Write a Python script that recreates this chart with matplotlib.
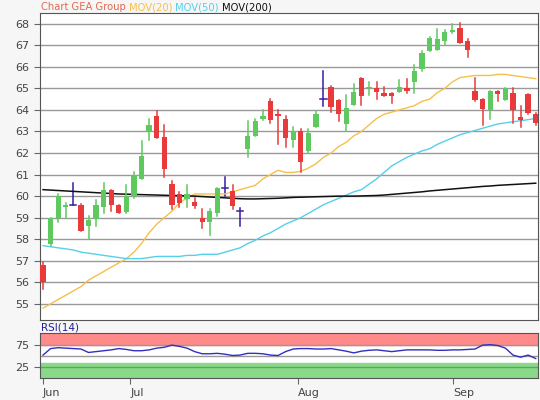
import matplotlib
matplotlib.use("Agg")
import matplotlib.pyplot as plt
import numpy as np

opens = [56.8,57.8,59.0,59.5,59.6,59.6,58.6,58.95,59.5,60.3,59.6,59.25,60.0,60.8,63.0,63.7,62.75,60.55,60.1,59.85,59.75,59.0,58.8,59.2,60.4,60.25,59.3,62.2,62.8,63.6,64.4,63.8,
         63.6,62.6,63.0,62.1,63.2,64.5,65.07,64.45,63.35,64.25,65.5,65.0,65.0,64.8,64.8,64.85,65.0,65.3,65.9,66.75,66.8,67.2,67.6,67.8,67.2,64.9,64.5,64.0,64.9,64.45,64.8,63.65,64.75,63.8]
closes = [56.0,59.0,60.0,59.6,59.6,58.4,58.9,59.6,60.3,59.6,59.2,60.0,61.0,61.85,63.3,62.7,61.25,59.6,59.7,60.1,59.55,58.8,59.3,60.4,60.4,59.55,59.3,62.8,63.5,63.7,63.55,63.7,
          62.7,63.0,61.6,62.95,63.8,64.5,64.14,63.8,64.1,64.85,64.65,65.05,64.85,64.65,64.65,65.05,64.9,65.8,66.65,67.35,67.3,67.6,67.7,67.1,66.8,64.45,64.05,64.9,64.75,65.0,64.0,63.55,63.85,63.4]
highs = [56.95,59.0,60.1,59.7,60.6,59.65,59.1,59.8,60.6,60.3,59.6,60.5,61.1,62.55,63.6,63.95,63.3,60.7,60.2,60.5,59.9,59.4,59.4,60.4,60.9,60.5,59.45,63.5,63.6,64.0,64.5,64.0,
         63.7,63.2,63.1,63.1,63.95,65.8,65.1,64.45,64.7,65.2,65.5,65.3,65.3,65.05,64.8,65.4,65.45,66.1,66.75,67.4,67.75,67.7,68.0,68.05,67.3,65.5,64.5,64.9,64.9,65.0,65.0,64.2,64.75,63.85]
lows = [55.7,57.7,58.8,59.0,59.6,58.4,58.0,58.6,59.2,59.3,59.2,59.2,59.9,60.8,62.6,62.7,60.9,59.4,59.5,59.5,59.45,58.5,58.2,59.1,60.0,59.4,58.6,61.8,62.8,63.55,63.4,62.4,
        62.3,62.3,61.1,62.0,63.2,64.2,63.9,63.5,63.0,64.25,64.25,64.7,64.5,64.65,64.3,64.85,64.8,64.8,65.8,66.75,66.8,67.0,67.55,67.1,66.45,64.4,63.3,63.6,64.4,64.45,63.4,63.2,63.8,63.3]

mov20 = [54.8,55.0,55.2,55.4,55.6,55.8,56.1,56.3,56.5,56.7,56.9,57.1,57.4,57.8,58.3,58.7,59.0,59.3,59.7,59.9,60.1,60.1,60.1,60.1,60.1,60.2,60.3,60.4,60.5,60.8,61.0,61.2,
         61.1,61.1,61.15,61.3,61.5,61.8,62.0,62.3,62.5,62.8,63.0,63.3,63.6,63.8,63.9,64.0,64.1,64.2,64.4,64.5,64.8,65.0,65.3,65.5,65.55,65.6,65.6,65.6,65.65,65.65,65.6,65.55,65.5,65.45]
mov50 = [57.7,57.65,57.6,57.55,57.5,57.4,57.35,57.3,57.25,57.2,57.15,57.1,57.1,57.1,57.15,57.2,57.2,57.2,57.2,57.25,57.25,57.3,57.3,57.3,57.4,57.5,57.6,57.8,57.95,58.15,58.3,58.5,
         58.7,58.85,59.0,59.2,59.4,59.6,59.75,59.9,60.05,60.2,60.3,60.55,60.8,61.1,61.4,61.6,61.8,61.95,62.1,62.2,62.4,62.55,62.7,62.85,62.95,63.05,63.15,63.25,63.35,63.4,63.45,63.5,63.55,63.6]
mov200 = [60.3,60.28,60.26,60.24,60.22,60.2,60.18,60.16,60.14,60.12,60.1,60.09,60.08,60.07,60.06,60.05,60.04,60.03,60.02,60.01,60.0,59.98,59.96,59.94,59.92,59.9,59.88,59.87,59.87,59.88,59.89,59.9,
          59.92,59.94,59.95,59.96,59.97,59.98,59.99,60.0,60.0,60.0,60.01,60.02,60.03,60.05,60.08,60.11,60.14,60.17,60.2,60.24,60.27,60.3,60.33,60.36,60.39,60.42,60.45,60.47,60.5,60.52,60.54,60.56,60.58,60.6]
rsi = [52,67,69,68,67,66,58,60,62,64,67,65,62,62,64,68,70,75,72,68,60,55,55,56,54,51,52,56,56,55,52,51,60,66,67,67,66,66,67,64,61,57,61,63,64,62,60,62,64,64,64,64,63,63,64,64,65,66,75,76,74,68,52,47,52,44]
xtick_pos = [0, 11.5, 33.6, 54.1]
xtick_labels = ["Jun", "Jul", "Aug", "Sep"]
legend_texts = ["Chart GEA Group", "MOV(20)", "MOV(50)", "MOV(200)"]
legend_colors = ["#e06a50", "#f5c04a", "#55d0ea", "#111111"]

fig = plt.figure(figsize=(5.4, 4.0), dpi=100)
fig.patch.set_facecolor("#f6f6f6")
ax = fig.add_axes([40/540, 1-320/400, 498/540, 307/400])
ax2 = fig.add_axes([40/540, 1-378/400, 498/540, 45/400])

x = np.arange(len(opens))
for i in x:
    o, c, h, l = opens[i], closes[i], highs[i], lows[i]
    if abs(o - c) < 0.02:
        col = "#3a1ca0"
        ax.plot([i, i], [l, h], color=col, lw=1.1)
        ax.plot([i-0.4, i+0.4], [o, o], color=col, lw=1.1)
    else:
        col = "#5ec95e" if c > o else "#e83a3a"
        ax.plot([i, i], [l, h], color=col, lw=1.1, zorder=3)
        ax.bar(i, abs(c-o), bottom=min(o, c), width=0.7, color=col, zorder=4)
ax.plot(x, mov20, color="#f5c04a", lw=1)
ax.plot(x, mov50, color="#55d0ea", lw=1)
ax.plot(x, mov200, color="#111111", lw=1.1)
ax.set_xlim(-0.4, 65.3)
ax.set_ylim(54.25, 68.5)
ax.set_yticks(range(55, 69))
ax.yaxis.grid(True, color="#999999", lw=1)
ax.set_axisbelow(True)
ax.set_xticks([])
ax.tick_params(axis="y", labelsize=8, labelcolor="#444444", length=4, color="#666666")
for s in ax.spines.values():
    s.set_color("#555555")

fig.canvas.draw()
renderer = fig.canvas.get_renderer()
xpos = 41
for t, c in zip(legend_texts, legend_colors):
    tx = fig.text(xpos/540, 1-7/400, t, color=c, fontsize=7.2, va="center")
    bb = tx.get_window_extent(renderer)
    xpos = bb.x1 + 3

ax2.axhspan(75, 103, color="#ff8a8a")
ax2.axhspan(-1, 33, color="#8ad88a")
for v, c in [(50, "#999999"), (75, "#999999"), (25, "#5aa85a")]:
    ax2.axhline(v, color=c, lw=1)
ax2.plot(x, rsi, color="#3030c0", lw=1)
ax2.set_xlim(-0.4, 65.3)
ax2.set_ylim(-1, 103)
ax2.set_yticks([25, 75])
ax2.set_xticks(xtick_pos)
ax2.set_xticklabels(xtick_labels, ha="left")
ax2.tick_params(labelsize=8, labelcolor="#444444", color="#666666", length=4)
for s in ax2.spines.values():
    s.set_color("#555555")
fig.text(41/540, 1-327/400, "RSI(14)", color="#2020a0", fontsize=7.5, va="center")

fig.savefig("out.png", dpi=100, facecolor=fig.get_facecolor())
